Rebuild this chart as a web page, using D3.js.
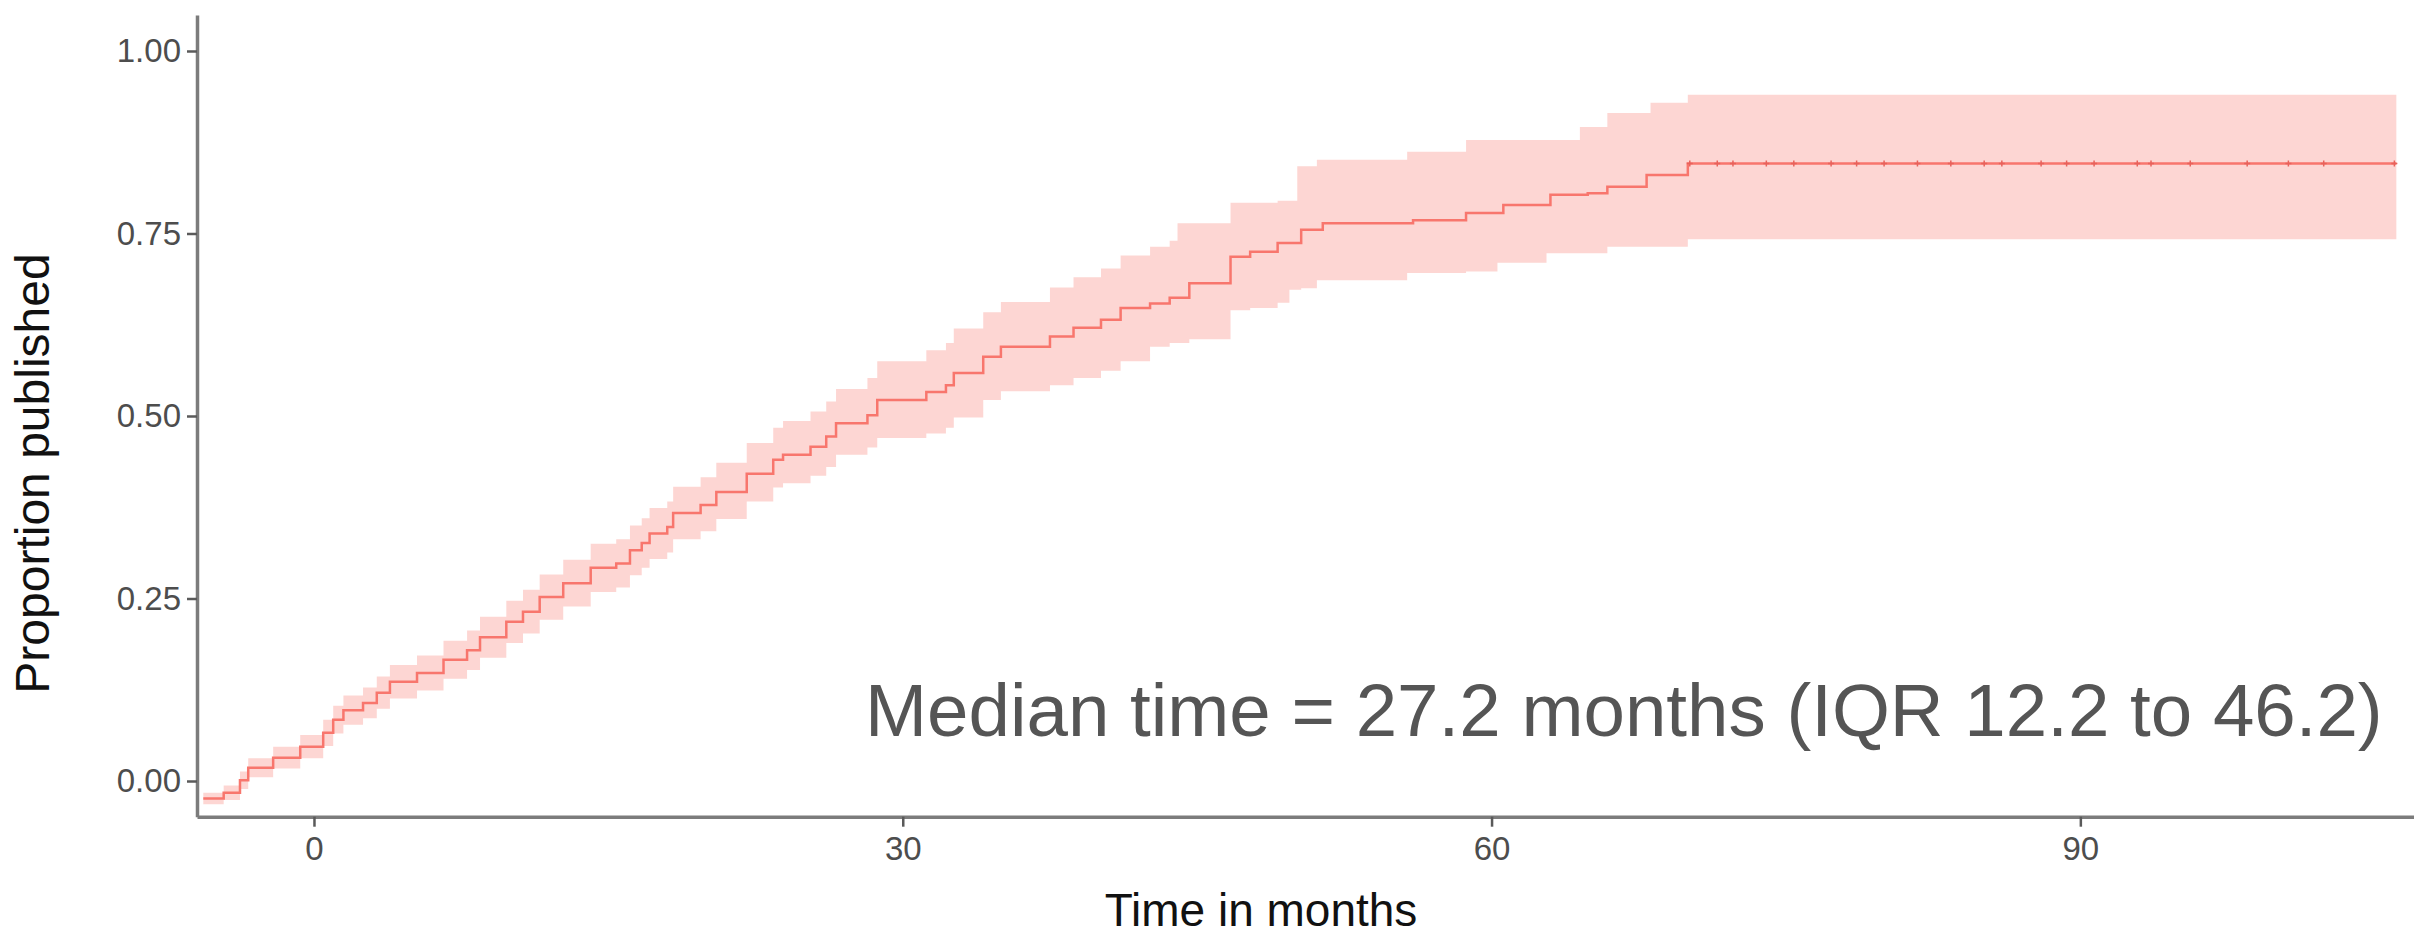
<!DOCTYPE html>
<html>
<head>
<meta charset="utf-8">
<script src="https://cdn.jsdelivr.net/npm/d3@7"></script>
<style>
  body { margin: 0; background: #fff; }
  svg { display: block; }
  .tick text { font-family: "Liberation Sans", Arial, sans-serif; }
</style>
</head>
<body>
<svg width="2414" height="935"></svg>
<script>
// step points of the cumulative curve (months, proportion published, 95% CI)
var times = [-5.64, -4.6, -3.77, -3.35, -2.08, -0.7, 0.47, 0.98, 1.5, 2.5, 3.2, 3.87, 5.25, 6.6, 7.8, 8.46,
    9.8, 10.65, 11.5, 12.7, 14.1, 15.4, 16.1, 16.7, 17.1, 18.0, 18.3, 19.7, 20.5, 22.05, 23.4, 23.9,
    25.3, 26.1, 26.6, 28.2, 28.7, 31.2, 32.2, 32.6, 34.1, 35.0, 37.5, 38.7, 40.1, 41.1, 42.6, 43.6,
    44.0, 44.6, 46.7, 47.7, 49.1, 49.7, 50.1, 50.3, 51.1, 51.4, 55.7, 56.0, 58.7, 60.3, 60.6, 62.8,
    63.0, 64.5, 64.9, 65.9, 67.9, 68.1, 70.0, 106.1];
var published = [-0.024, -0.016, 0.001, 0.018, 0.032, 0.047, 0.066, 0.084, 0.097, 0.107, 0.121, 0.136, 0.148, 0.166, 0.179, 0.197,
    0.218, 0.232, 0.252, 0.271, 0.292, 0.298, 0.316, 0.326, 0.339, 0.348, 0.367, 0.378, 0.396, 0.421, 0.440, 0.447,
    0.458, 0.472, 0.490, 0.501, 0.522, 0.533, 0.542, 0.559, 0.581, 0.595, 0.609, 0.621, 0.632, 0.648, 0.654, 0.662,
    0.662, 0.682, 0.718, 0.725, 0.737, 0.737, 0.737, 0.755, 0.755, 0.764, 0.764, 0.768, 0.778, 0.778, 0.789, 0.789,
    0.803, 0.803, 0.805, 0.814, 0.830, 0.830, 0.846, 0.846];
var lowerCI = [-0.032, -0.026, -0.011, 0.005, 0.017, 0.031, 0.048, 0.065, 0.077, 0.086, 0.099, 0.113, 0.124, 0.140, 0.152, 0.169,
    0.189, 0.202, 0.221, 0.239, 0.259, 0.265, 0.282, 0.292, 0.304, 0.313, 0.331, 0.342, 0.359, 0.383, 0.402, 0.408,
    0.418, 0.430, 0.447, 0.457, 0.470, 0.476, 0.484, 0.498, 0.522, 0.534, 0.542, 0.552, 0.562, 0.575, 0.595, 0.600,
    0.600, 0.605, 0.645, 0.648, 0.655, 0.673, 0.673, 0.675, 0.686, 0.686, 0.696, 0.696, 0.698, 0.710, 0.710, 0.723,
    0.723, 0.723, 0.723, 0.732, 0.732, 0.732, 0.742, 0.742];
var upperCI = [-0.016, -0.006, 0.013, 0.031, 0.047, 0.063, 0.084, 0.103, 0.117, 0.128, 0.143, 0.159, 0.172, 0.192, 0.206, 0.225,
    0.247, 0.262, 0.283, 0.303, 0.325, 0.331, 0.350, 0.360, 0.374, 0.383, 0.403, 0.416, 0.436, 0.463, 0.484, 0.493,
    0.506, 0.520, 0.537, 0.552, 0.575, 0.590, 0.600, 0.620, 0.642, 0.656, 0.676, 0.690, 0.702, 0.720, 0.732, 0.740,
    0.764, 0.764, 0.792, 0.792, 0.795, 0.795, 0.842, 0.842, 0.851, 0.851, 0.862, 0.862, 0.878, 0.878, 0.878, 0.878,
    0.878, 0.896, 0.896, 0.915, 0.915, 0.929, 0.940, 0.940];
var censorTimes = [70.1, 71.5, 72.3, 74.0, 75.4, 77.3, 78.6, 80.0, 81.7, 83.4, 85.1, 86.0, 88.0, 89.3, 90.7,
    92.9, 93.6, 95.6, 98.5, 100.6, 102.4, 106.0];
var xTicks = [0, 30, 60, 90];
var yTicks = [0, 0.25, 0.5, 0.75, 1];
var medianLabel = "Median time = 27.2 months (IQR 12.2 to 46.2)";

var svg = d3.select("svg"),
    plotLeft = 197,
    plotRight = 2414,
    plotTop = 15,
    plotBottom = 816.7;

var x = d3.scaleLinear()
    .domain([-5.96, 107.0])
    .range([plotLeft, plotRight]);

var y = d3.scaleLinear()
    .domain([-0.0489, 1.0493])
    .range([plotBottom, plotTop]);

var rows = times.map(function (t, i) {
    return {t: t, p: published[i], lo: lowerCI[i], hi: upperCI[i]};
});

var area = d3.area()
    .curve(d3.curveStepAfter)
    .x(function (d) { return x(d.t); })
    .y0(function (d) { return y(d.lo); })
    .y1(function (d) { return y(d.hi); });

var line = d3.line()
    .curve(d3.curveStepAfter)
    .x(function (d) { return x(d.t); })
    .y(function (d) { return y(d.p); });

svg.append("path")
    .datum(rows)
    .attr("d", area)
    .attr("fill", "#F8766D")
    .attr("fill-opacity", 0.3);

svg.append("path")
    .datum(rows)
    .attr("d", line)
    .attr("fill", "none")
    .attr("stroke", "#F8766D")
    .attr("stroke-width", 2.5);

// censoring marks sit on the step value at that time
var bisect = d3.bisector(function (d) { return d.t; }).right;
svg.append("g")
    .selectAll("path")
    .data(censorTimes)
    .enter()
    .append("path")
    .attr("d", function (c) {
        var d = rows[Math.max(0, bisect(rows, c) - 1)];
        var cx = x(c), cy = y(d.p);
        return "M" + (cx - 3) + "," + cy + "H" + (cx + 3) + "M" + cx + "," + (cy - 3) + "V" + (cy + 3);
    })
    .attr("stroke", "#e8625b")
    .attr("stroke-width", 1.5)
    .attr("fill", "none");

// axes
var gx = svg.append("g")
    .attr("transform", "translate(0," + plotBottom + ")")
    .call(d3.axisBottom(x).tickValues(xTicks).tickSize(10).tickSizeOuter(0).tickPadding(10));

var gy = svg.append("g")
    .attr("transform", "translate(" + plotLeft + ",0)")
    .call(d3.axisLeft(y).tickValues(yTicks).tickFormat(d3.format(".2f")).tickSize(10).tickSizeOuter(0).tickPadding(6));

[gx, gy].forEach(function (g) {
    g.select(".domain").attr("stroke", "#7c7c7c").attr("stroke-width", 3.5);
    g.selectAll(".tick line").attr("stroke", "#5a5a5a").attr("stroke-width", 2.5);
    g.selectAll(".tick text")
        .attr("fill", "#4d4d4d")
        .style("font-size", "33px");
});

// axis titles
svg.append("text")
    .attr("x", 1261)
    .attr("y", 926)
    .attr("text-anchor", "middle")
    .attr("font-family", "Liberation Sans, Arial, sans-serif")
    .attr("font-size", 46)
    .attr("fill", "#111")
    .text("Time in months");

svg.append("text")
    .attr("transform", "translate(49,473.5)rotate(-90)")
    .attr("text-anchor", "middle")
    .attr("font-family", "Liberation Sans, Arial, sans-serif")
    .attr("font-size", 48)
    .attr("fill", "#111")
    .text("Proportion published");

svg.append("text")
    .attr("x", 865)
    .attr("y", 736)
    .attr("font-family", "Liberation Sans, Arial, sans-serif")
    .attr("font-size", 74.5)
    .attr("fill", "#555555")
    .text(medianLabel);
</script>
</body>
</html>
